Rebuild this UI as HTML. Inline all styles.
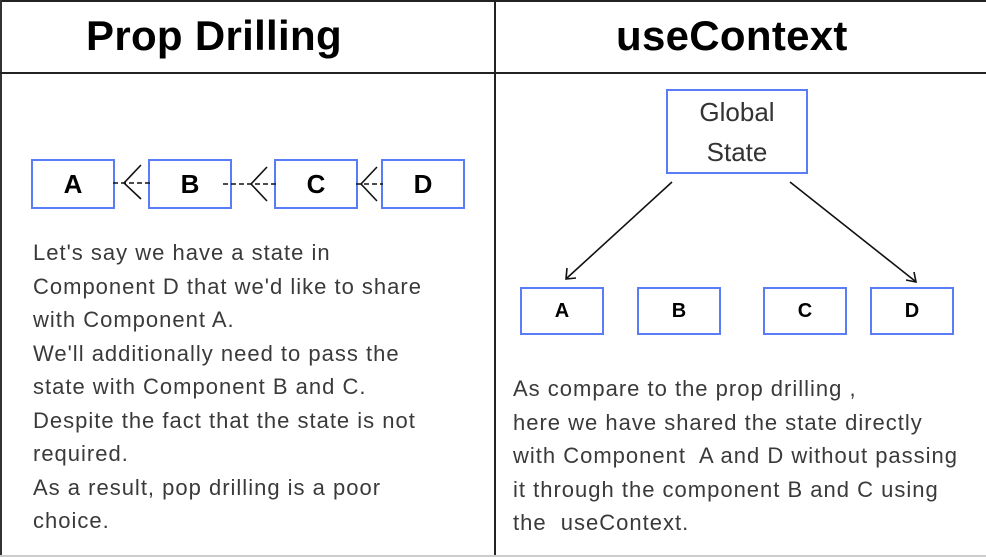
<!DOCTYPE html>
<html><head><style>
body{margin:0;width:986px;height:557px;background:#fff;position:relative;overflow:hidden;font-family:"Liberation Sans",sans-serif}
.t{position:absolute;font-weight:bold;font-size:42px;color:#000;top:12px;letter-spacing:0.3px}
.box{position:absolute;border:2px solid #5b7cf7;box-sizing:border-box;display:flex;align-items:center;justify-content:center;font-weight:bold;color:#000}
.p{position:absolute;font-size:22px;line-height:33.5px;color:#3a3a3a;white-space:nowrap;letter-spacing:1px}
</style></head><body>
<div style="position:absolute;left:0;top:0;width:986px;height:2px;background:#222"></div>
<div style="position:absolute;left:0;top:0;width:2px;height:557px;background:#333"></div>
<div style="position:absolute;left:0;top:72px;width:986px;height:2px;background:#222"></div>
<div style="position:absolute;left:494px;top:0;width:2px;height:557px;background:#222"></div>
<div style="position:absolute;left:0;top:555px;width:986px;height:2px;background:#ccc"></div>
<div class="t" style="left:86px">Prop Drilling</div>
<div class="t" style="left:616px">useContext</div>

<div class="box" style="left:31px;top:159px;width:84px;height:50px;font-size:26px">A</div>
<div class="box" style="left:148px;top:159px;width:84px;height:50px;font-size:26px">B</div>
<div class="box" style="left:274px;top:159px;width:84px;height:50px;font-size:26px">C</div>
<div class="box" style="left:381px;top:159px;width:84px;height:50px;font-size:26px">D</div>
<svg style="position:absolute;left:0;top:0" width="986" height="557">
<g stroke="#111" stroke-width="1.6" fill="none">
<line x1="113" y1="183" x2="152" y2="183" stroke-dasharray="5,3"/>
<polyline points="141,165 124,183 141,199"/>
<line x1="223" y1="184" x2="276" y2="184" stroke-dasharray="5,3"/>
<polyline points="267,167 251,184 267,201"/>
<line x1="356" y1="184" x2="383" y2="184" stroke-dasharray="5,3"/>
<polyline points="377,167 361,184 377,201"/>
<line x1="672" y1="182" x2="567" y2="278"/>
<polyline points="567,268 566,279 576,278"/>
<line x1="790" y1="182" x2="915" y2="281"/>
<polyline points="906,280 916,282 914,272"/>
</g></svg>
<div class="box" style="left:666px;top:89px;width:142px;height:85px;font-weight:normal;color:#333;font-size:26px;line-height:40px;text-align:center">Global<br>State</div>
<div class="box" style="left:520px;top:287px;width:84px;height:48px;font-size:20px">A</div>
<div class="box" style="left:637px;top:287px;width:84px;height:48px;font-size:20px">B</div>
<div class="box" style="left:763px;top:287px;width:84px;height:48px;font-size:20px">C</div>
<div class="box" style="left:870px;top:287px;width:84px;height:48px;font-size:20px">D</div>

<div class="p" style="left:33px;top:236px">Let's say we have a state in<br>Component D that we'd like to share<br>with Component A.<br>We'll additionally need to pass the<br>state with Component B and C.<br>Despite the fact that the state is not<br>required.<br>As a result, pop drilling is a poor<br>choice.</div>
<div class="p" style="left:513px;top:372px">As compare to the prop drilling ,<br>here we have shared the state directly<br>with Component&nbsp; A and D without passing<br>it through the component B and C using<br>the&nbsp; useContext.</div>
</body></html>
